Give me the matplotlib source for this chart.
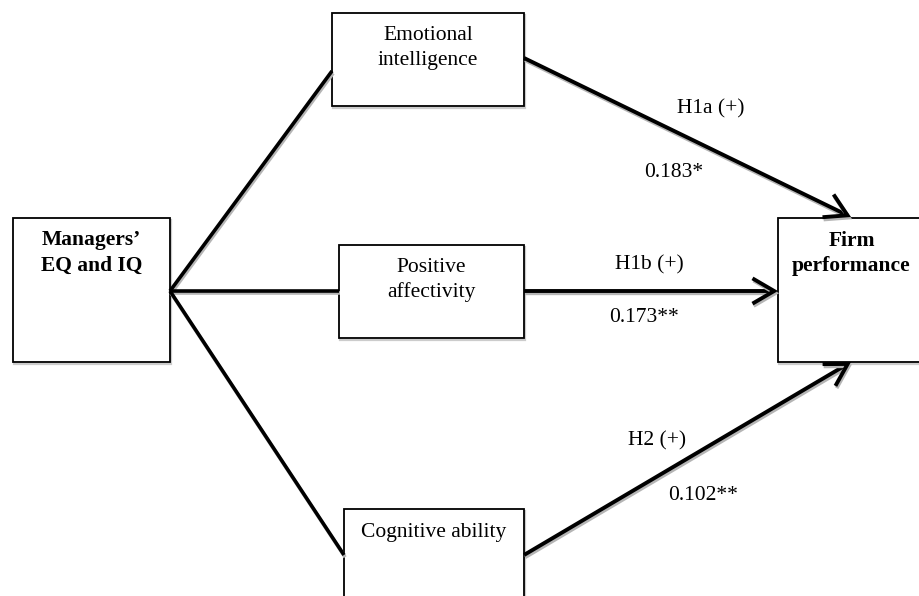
import matplotlib
matplotlib.use("Agg")
import matplotlib.pyplot as plt
from matplotlib.patches import Rectangle, FancyArrowPatch
import matplotlib.patheffects as pe

# ---- data ----
node_labels = ["Managers’\nEQ and IQ", "Emotional\nintelligence", "Positive\naffectivity",
               "Cognitive ability", "Firm\nperformance"]
node_bold = [True, False, False, False, True]
hypotheses = ["H1a (+)", "H1b (+)", "H2 (+)"]
coefficients = ["0.183*", "0.173**", "0.102**"]

# ---- layout (pixel coordinates) ----
boxes = [  # x0, y0, x1, y1
    (13, 218, 170, 362),
    (332, 13, 524, 106),
    (339, 245, 524, 338),
    (344, 509, 524, 620),
    (778, 218, 925, 362),
]
first_line_y = [238, 33, 265, 530, 238]
LINE_GAP = 25

fig = plt.figure(figsize=(9.2, 5.96), dpi=100)
ax = fig.add_axes([0, 0, 1, 1])
ax.set_xlim(0, 920)
ax.set_ylim(596, 0)
ax.axis("off")

FONT = ["Liberation Serif", "DejaVu Serif"]
FS = 15.5

def shadow():
    return [pe.SimpleLineShadow(offset=(0.8, -1.6), shadow_color="#b5b5b5", alpha=1), pe.Normal()]

for (x0, y0, x1, y1), lab, bold, ty in zip(boxes, node_labels, node_bold, first_line_y):
    ax.add_patch(Rectangle((x0 + 1.5, y0 + 2), x1 - x0, y1 - y0, fill=False,
                           edgecolor="#cccccc", linewidth=1.6, zorder=2))
    ax.add_patch(Rectangle((x0, y0), x1 - x0, y1 - y0, facecolor="white",
                           edgecolor="black", linewidth=1.3, zorder=3))
    for i, line in enumerate(lab.split("\n")):
        ax.text((x0 + x1) / 2, ty + i * LINE_GAP, line, ha="center", va="center_baseline",
                fontsize=FS, family=FONT, fontweight="bold" if bold else "normal", zorder=4)

apex = (170, 291)
segs = [
    (apex, (332, 71)),
    (apex, (339, 291)),
    (apex, (344, 555)),
]
for (a, b) in segs:
    ax.plot([a[0], b[0]], [a[1], b[1]], color="black", lw=2.6,
            solid_capstyle="butt", path_effects=shadow(), zorder=5)

arrows = [
    ((524, 58), (851, 217)),
    ((524, 291), (778, 291)),
    ((524, 555), (851, 362)),
]
for (a, b) in arrows:
    arr = FancyArrowPatch(a, b, arrowstyle="->,head_length=6,head_width=3.5",
                          color="black", lw=2.8, shrinkA=0, shrinkB=0,
                          mutation_scale=2.6, zorder=5, joinstyle="miter",
                          capstyle="butt", path_effects=shadow())
    ax.add_patch(arr)

hyp_pos = [(711, 106), (649, 262), (657, 438)]
coef_pos = [(674, 170), (644, 315), (703, 493)]
for (x, y), t in zip(hyp_pos, hypotheses):
    ax.text(x, y, t, ha="center", va="center_baseline", fontsize=FS, family=FONT, zorder=6)
for (x, y), t in zip(coef_pos, coefficients):
    ax.text(x, y, t, ha="center", va="center_baseline", fontsize=FS, family=FONT, zorder=6)

fig.savefig("out.png", dpi=100)
